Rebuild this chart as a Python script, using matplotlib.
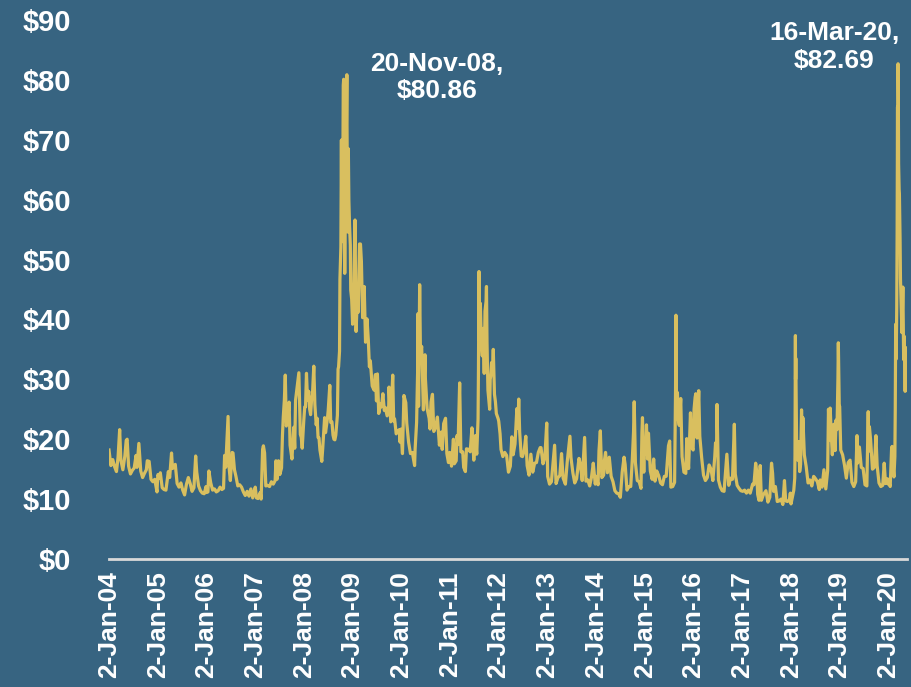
import matplotlib
matplotlib.use("Agg")
import matplotlib.pyplot as plt
import pandas as pd

# VIX closing levels (month-day: value), one dict per year
vix_2004 = {"01-02": 18.2, "01-16": 15.6, "01-30": 16.6, "02-13": 15.4, "02-27": 14.6, "03-10": 17.0,
            "03-22": 21.6, "03-31": 16.5, "04-15": 14.9, "04-30": 17.2, "05-10": 19.8, "05-17": 20.0,
            "05-28": 15.5, "06-11": 14.2, "06-25": 14.8, "07-09": 15.2, "07-23": 17.3, "07-30": 15.3,
            "08-13": 19.3, "08-27": 14.7, "09-10": 13.6, "09-24": 14.3, "10-08": 14.9, "10-15": 16.4,
            "10-29": 16.3, "11-12": 13.3, "11-26": 12.9, "12-10": 13.3, "12-27": 11.2, "12-31": 13.3}
vix_2005 = {"01-03": 14.1, "01-14": 13.5, "01-21": 14.4, "02-04": 11.9, "02-18": 11.6, "03-04": 11.5,
            "03-22": 14.6, "04-01": 13.6, "04-15": 17.7, "04-22": 15.1, "04-29": 15.3, "05-13": 15.8,
            "05-27": 12.6, "06-10": 12.0, "06-24": 12.7, "07-08": 11.5, "07-22": 10.7, "08-05": 12.5,
            "08-19": 13.6, "09-02": 12.6, "09-16": 11.3, "09-30": 11.9, "10-13": 17.2, "10-21": 14.5,
            "11-04": 12.2, "11-18": 11.4, "12-02": 11.0, "12-16": 10.9, "12-30": 12.1}
vix_2006 = {"01-03": 11.1, "01-13": 11.2, "01-20": 14.7, "02-03": 12.7, "02-17": 11.5, "03-03": 11.7,
            "03-17": 11.2, "03-31": 11.4, "04-14": 12.0, "04-28": 11.6, "05-10": 11.8, "05-18": 17.3,
            "05-26": 15.3, "06-08": 21.3, "06-13": 23.8, "06-21": 15.2, "06-30": 13.1, "07-14": 17.8,
            "07-20": 17.7, "07-31": 14.9, "08-11": 13.8, "08-25": 12.2, "09-08": 12.4, "09-22": 12.0,
            "10-06": 11.2, "10-20": 10.6, "11-03": 11.3, "11-17": 10.5, "12-01": 11.7, "12-15": 10.2,
            "12-29": 11.6}
vix_2007 = {"01-03": 12.0, "01-12": 10.2, "01-24": 10.1, "02-09": 11.1, "02-16": 10.0, "02-27": 18.3,
            "03-05": 18.9, "03-14": 17.7, "03-23": 12.2, "04-05": 12.3, "04-20": 12.1, "05-04": 12.9,
            "05-18": 12.5, "06-01": 13.1, "06-07": 16.4, "06-15": 13.3, "06-26": 16.4, "07-06": 14.1,
            "07-19": 15.2, "07-26": 20.7, "08-01": 23.7, "08-09": 26.5, "08-16": 30.7, "08-24": 22.2,
            "09-04": 23.3, "09-14": 26.2, "09-21": 19.0, "10-05": 16.7, "10-19": 22.0, "10-26": 18.5,
            "11-01": 26.5, "11-12": 28.5, "11-26": 31.1, "12-07": 20.8, "12-14": 20.3, "12-21": 18.5,
            "12-31": 22.5}
vix_2008 = {"01-02": 23.2, "01-09": 25.4, "01-15": 25.4, "01-22": 31.0, "01-30": 26.5, "02-08": 28.0,
            "02-15": 25.0, "02-22": 24.1, "02-29": 26.5, "03-07": 27.5, "03-17": 32.2, "03-25": 25.8,
            "04-04": 22.4, "04-11": 23.5, "04-18": 20.3, "04-25": 20.2, "05-02": 18.2, "05-16": 16.3,
            "05-23": 18.5, "06-06": 23.6, "06-13": 21.1, "06-20": 22.2, "06-27": 23.4, "07-03": 24.8,
            "07-15": 29.0, "07-22": 22.8, "07-31": 22.9, "08-08": 20.7, "08-15": 20.0, "08-22": 19.9,
            "08-29": 20.7, "09-05": 22.6, "09-10": 24.0, "09-15": 31.7, "09-19": 32.1, "09-26": 34.7,
            "09-29": 46.7, "10-06": 52.1, "10-10": 69.95, "10-13": 55.0, "10-16": 67.6, "10-20": 53.0,
            "10-22": 69.7, "10-24": 79.1, "10-27": 80.1, "10-28": 67.0, "10-31": 59.9, "11-04": 47.7,
            "11-12": 66.5, "11-14": 66.3, "11-20": 80.86, "11-21": 72.7, "11-26": 54.6, "12-01": 68.5,
            "12-05": 59.9, "12-10": 55.7, "12-16": 52.4, "12-19": 44.9, "12-26": 43.4, "12-31": 40.0}
vix_2009 = {"01-02": 39.2, "01-09": 42.8, "01-20": 56.6, "01-28": 38.0, "02-06": 43.4, "02-13": 41.2,
            "02-23": 52.6, "03-02": 52.6, "03-09": 49.7, "03-18": 40.3, "03-30": 45.5, "04-09": 36.2,
            "04-20": 40.1, "04-30": 36.5, "05-08": 32.1, "05-15": 33.1, "05-29": 28.9, "06-12": 28.2,
            "06-22": 30.8, "06-30": 26.4, "07-07": 30.9, "07-17": 24.3, "07-31": 25.9, "08-07": 25.4,
            "08-17": 27.6, "08-28": 24.8, "09-04": 25.3, "09-18": 23.9, "09-30": 25.6, "10-02": 28.7,
            "10-15": 22.9, "10-30": 30.7, "11-06": 23.0, "11-13": 23.4, "11-25": 20.9, "12-04": 21.3,
            "12-18": 21.6, "12-24": 19.5, "12-31": 21.7}
vix_2010 = {"01-04": 20.0, "01-11": 17.6, "01-22": 27.3, "02-05": 26.1, "02-12": 22.7, "02-26": 19.5,
            "03-12": 17.6, "03-26": 17.8, "04-12": 15.6, "04-16": 18.4, "04-27": 22.8, "05-06": 32.8,
            "05-07": 40.95, "05-12": 25.5, "05-20": 45.8, "05-26": 34.0, "06-04": 35.5, "06-17": 24.9,
            "06-29": 34.1, "07-02": 30.1, "07-15": 25.1, "07-30": 23.5, "08-06": 21.7, "08-13": 26.2,
            "08-24": 27.5, "09-03": 21.3, "09-17": 22.0, "09-30": 23.7, "10-15": 19.0, "10-29": 21.2,
            "11-05": 18.3, "11-16": 22.6, "11-30": 23.5, "12-10": 17.6, "12-22": 16.1, "12-31": 17.8}
vix_2011 = {"01-03": 17.6, "01-14": 15.5, "01-28": 20.0, "02-04": 15.9, "02-18": 16.4, "02-24": 20.6,
            "03-04": 19.1, "03-16": 29.4, "03-25": 17.9, "04-08": 17.9, "04-15": 15.3, "04-28": 14.6,
            "05-06": 18.4, "05-23": 18.3, "06-03": 17.9, "06-16": 21.9, "06-30": 16.5, "07-12": 20.6,
            "07-22": 17.5, "08-01": 23.4, "08-04": 31.7, "08-08": 48.0, "08-10": 43.0, "08-12": 36.4,
            "08-18": 42.7, "08-26": 35.6, "09-02": 33.9, "09-09": 38.5, "09-16": 31.0, "09-22": 41.4,
            "09-30": 43.0, "10-03": 45.5, "10-07": 36.2, "10-14": 28.2, "10-27": 25.0, "10-31": 30.0,
            "11-04": 30.5, "11-10": 32.8, "11-18": 32.0, "11-23": 35.0, "12-02": 27.5, "12-09": 26.3,
            "12-16": 24.3, "12-30": 23.4}
vix_2012 = {"01-03": 23.0, "01-13": 20.9, "01-20": 18.3, "02-03": 17.1, "02-17": 17.8, "03-02": 17.3,
            "03-16": 14.5, "03-30": 15.5, "04-10": 20.4, "04-20": 17.4, "05-04": 19.2, "05-18": 25.1,
            "05-25": 21.8, "06-01": 26.7, "06-08": 21.2, "06-20": 17.2, "06-29": 17.1, "07-12": 18.1,
            "07-24": 20.5, "08-03": 15.6, "08-17": 14.0, "08-31": 17.5, "09-14": 14.5, "09-28": 16.0,
            "10-12": 16.1, "10-26": 17.8, "11-09": 18.6, "11-15": 18.6, "11-30": 15.9, "12-14": 17.0,
            "12-28": 22.7}
vix_2013 = {"01-04": 13.8, "01-18": 12.5, "02-01": 12.9, "02-25": 19.0, "03-08": 12.6, "03-22": 13.6,
            "04-05": 13.9, "04-18": 17.6, "04-30": 13.5, "05-17": 12.5, "05-31": 16.3, "06-20": 20.5,
            "06-28": 16.9, "07-12": 14.4, "07-26": 12.7, "08-09": 13.4, "08-27": 16.8, "09-06": 15.9,
            "09-20": 13.1, "10-08": 20.3, "10-18": 13.0, "11-01": 13.2, "11-15": 12.2, "11-29": 13.7,
            "12-12": 16.0, "12-27": 12.5}
vix_2014 = {"01-03": 13.8, "01-17": 12.4, "01-24": 18.1, "02-03": 21.4, "02-14": 13.6, "02-28": 14.0,
            "03-03": 16.0, "03-14": 17.8, "03-28": 14.4, "04-11": 17.0, "04-25": 13.8, "05-09": 12.9,
            "05-23": 11.4, "06-06": 11.0, "06-20": 10.9, "07-03": 10.3, "07-17": 14.5, "07-31": 17.0,
            "08-08": 15.8, "08-22": 11.5, "09-05": 12.1, "09-19": 12.1, "10-01": 16.7, "10-10": 21.2,
            "10-15": 26.25, "10-24": 16.1, "11-07": 13.1, "11-21": 12.9, "12-05": 11.8, "12-12": 21.1,
            "12-16": 23.6, "12-26": 14.5, "12-31": 19.2}
vix_2015 = {"01-02": 17.8, "01-09": 17.6, "01-15": 22.4, "01-23": 16.7, "01-30": 21.0, "02-13": 14.7,
            "02-27": 13.3, "03-10": 16.7, "03-20": 13.0, "04-02": 14.7, "04-17": 13.9, "05-01": 12.7,
            "05-15": 12.4, "05-29": 13.8, "06-12": 13.8, "06-29": 18.9, "07-08": 19.7, "07-17": 12.0,
            "07-31": 12.1, "08-14": 12.8, "08-21": 28.0, "08-24": 40.7, "08-28": 26.1, "09-04": 27.8,
            "09-11": 23.2, "09-18": 22.3, "09-29": 26.8, "10-09": 17.1, "10-23": 14.5, "11-06": 14.3,
            "11-13": 20.1, "11-27": 15.1, "12-11": 24.4, "12-18": 18.7, "12-31": 18.2}
vix_2016 = {"01-07": 25.0, "01-15": 27.0, "01-20": 27.6, "01-29": 20.2, "02-11": 28.1, "02-19": 20.5,
            "03-04": 16.9, "03-18": 14.0, "04-01": 13.1, "04-15": 13.6, "04-29": 15.7, "05-13": 15.0,
            "05-27": 13.1, "06-10": 17.0, "06-16": 19.4, "06-23": 17.3, "06-27": 25.8, "07-08": 13.2,
            "07-22": 12.0, "08-05": 11.4, "08-19": 11.3, "09-09": 17.5, "09-23": 12.3, "10-07": 13.5,
            "10-21": 13.3, "11-04": 22.5, "11-11": 14.2, "11-25": 12.3, "12-09": 11.8, "12-23": 11.4}
vix_2017 = {"01-06": 11.3, "01-20": 11.5, "02-03": 11.0, "02-17": 11.5, "03-03": 11.0, "03-21": 12.5,
            "03-31": 12.4, "04-13": 16.0, "04-21": 14.6, "04-28": 10.8, "05-08": 9.8, "05-17": 15.6,
            "05-26": 9.8, "06-09": 10.7, "06-29": 11.4, "07-14": 9.5, "07-28": 10.3, "08-10": 16.0,
            "08-18": 14.3, "08-25": 11.3, "09-08": 12.1, "09-22": 9.6, "10-06": 9.7, "10-20": 10.0,
            "11-03": 9.1, "11-15": 13.1, "11-24": 9.7, "12-08": 9.6, "12-22": 9.9, "12-29": 11.0}
vix_2018 = {"01-03": 9.2, "01-12": 10.2, "01-24": 11.5, "01-31": 13.5, "02-02": 17.3, "02-05": 37.3,
            "02-06": 30.0, "02-08": 33.5, "02-14": 19.3, "02-23": 16.5, "03-02": 19.6, "03-09": 14.6,
            "03-16": 15.8, "03-23": 24.9, "03-29": 20.0, "04-02": 23.6, "04-06": 21.5, "04-13": 17.4,
            "04-27": 15.4, "05-11": 12.7, "05-25": 13.2, "06-08": 12.2, "06-22": 13.8, "07-06": 13.4,
            "07-20": 12.9, "08-03": 11.6, "08-10": 13.2, "08-24": 12.0, "09-07": 14.9, "09-21": 11.7,
            "10-05": 14.8, "10-11": 25.0, "10-19": 19.9, "10-24": 25.2, "10-31": 21.2, "11-09": 17.4,
            "11-20": 22.5, "11-30": 18.1, "12-07": 23.2, "12-14": 21.6, "12-21": 30.1, "12-24": 36.1,
            "12-31": 25.4}
vix_2019 = {"01-03": 25.5, "01-11": 18.2, "01-18": 17.8, "01-25": 17.4, "02-08": 15.7, "02-22": 13.5,
            "03-08": 16.1, "03-22": 16.5, "04-05": 12.8, "04-19": 12.1, "05-03": 12.9, "05-13": 20.6,
            "05-17": 16.0, "05-31": 18.7, "06-14": 15.3, "06-28": 15.1, "07-12": 12.4, "07-26": 12.2,
            "08-05": 24.6, "08-09": 18.0, "08-14": 22.1, "08-23": 19.9, "09-06": 15.0, "09-20": 15.3,
            "10-02": 20.6, "10-11": 15.6, "10-25": 12.7, "11-08": 12.1, "11-22": 12.3, "12-03": 16.0,
            "12-13": 12.6, "12-27": 13.4}
vix_2020 = {"01-02": 12.5, "01-10": 12.6, "01-17": 12.1, "01-27": 18.2, "01-31": 18.8, "02-07": 15.5,
            "02-14": 13.7, "02-21": 17.1, "02-24": 25.0, "02-27": 39.2, "03-02": 33.4, "03-06": 41.9,
            "03-09": 54.5, "03-12": 75.5, "03-13": 57.8, "03-16": 82.69, "03-18": 76.5, "03-20": 66.0,
            "03-24": 61.7, "03-26": 61.0, "03-31": 53.5, "04-03": 46.8, "04-09": 41.7, "04-14": 37.8,
            "04-21": 45.4, "04-27": 33.3, "05-01": 37.2, "05-08": 28.0, "05-13": 35.3, "05-18": 29.3,
            "05-22": 28.2}

years = [2004, 2005, 2006, 2007, 2008, 2009, 2010, 2011, 2012,
         2013, 2014, 2015, 2016, 2017, 2018, 2019, 2020]
yearly = [vix_2004, vix_2005, vix_2006, vix_2007, vix_2008, vix_2009, vix_2010, vix_2011, vix_2012,
          vix_2013, vix_2014, vix_2015, vix_2016, vix_2017, vix_2018, vix_2019, vix_2020]

# peaks that get a label
peaks = [("2008-11-20", 80.86, "20-Nov-08,\n$80.86"),
         ("2020-03-16", 82.69, "16-Mar-20,\n$82.69")]

tick_dates = [f"{y}-01-02" for y in years]
y_ticks = [0, 10, 20, 30, 40, 50, 60, 70, 80, 90]

# build the series
dates, values = [], []
for y, d in zip(years, yearly):
    for md, v in d.items():
        dates.append(f"{y}-{md}")
        values.append(v)
vix = pd.Series(values, index=pd.to_datetime(dates)).sort_index()

bg = "#376481"
gold = "#D9BF5F"

plt.rcParams['font.family'] = ['Liberation Sans', 'DejaVu Sans']
fig = plt.figure(figsize=(9.12, 6.87), dpi=100, facecolor=bg)
ax = fig.add_axes([109 / 912, 1 - 559 / 687, (907 - 109) / 912, (559 - 20) / 687])
ax.set_facecolor(bg)

ax.plot(vix.index, vix.values, color=gold, linewidth=2.3)

ax.set_ylim(0, 90)
ax.set_xlim(vix.index[0], vix.index[-1])
ax.set_yticks(y_ticks)
ax.set_yticklabels([f"${t}" for t in y_ticks])
ticks = pd.to_datetime(tick_dates)
ax.set_xticks(ticks)
ax.set_xticklabels([t.strftime("%-d-%b-%y") for t in ticks], rotation=90)

ax.tick_params(axis='y', length=0, pad=27, labelsize=21, labelcolor='white')
ax.tick_params(axis='x', length=0, pad=9, labelsize=19, labelcolor='white')
for lbl in ax.get_xticklabels() + ax.get_yticklabels():
    lbl.set_fontweight('bold')

for side in ['top', 'right', 'left']:
    ax.spines[side].set_visible(False)
ax.spines['bottom'].set_color('#D9D9D9')
ax.spines['bottom'].set_linewidth(2)

# peak labels
offsets = [(65, -2), (-46, 12)]
for (d, v, txt), off in zip(peaks, offsets):
    ax.annotate(txt, xy=(pd.Timestamp(d), v), xytext=off, textcoords='offset points',
                ha='center', va='center', color='white', fontsize=19, fontweight='bold',
                linespacing=1.2)

fig.savefig("out.png", dpi=100, facecolor=bg)
